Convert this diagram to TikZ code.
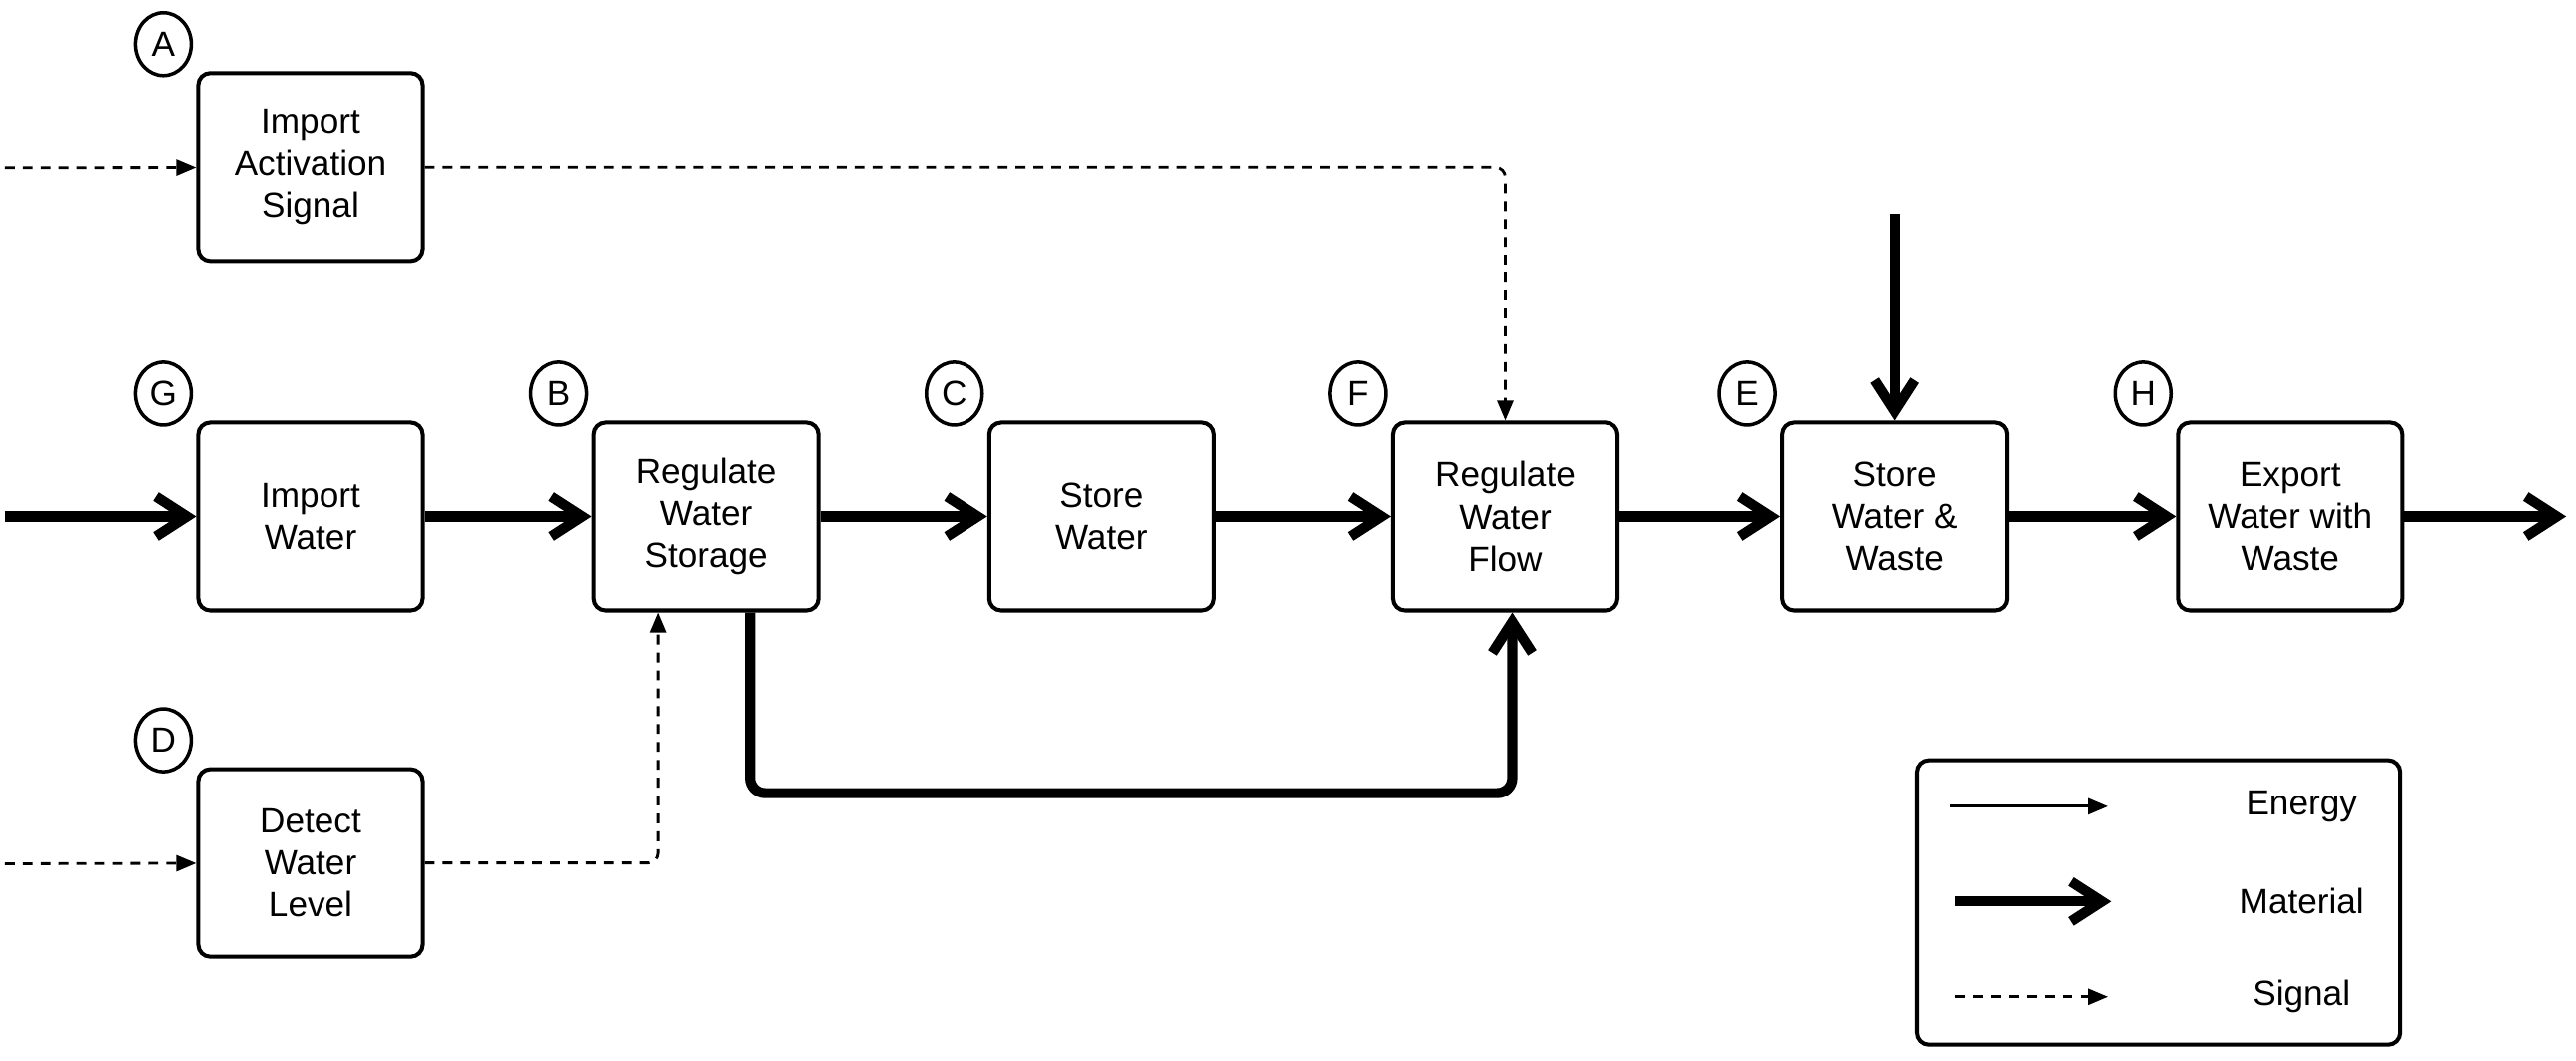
\documentclass[tikz,border=0pt]{standalone}
\usepackage{fontspec}
\setmainfont{Liberation Sans}
\usetikzlibrary{arrows.meta,positioning,shapes.geometric}
\tikzset{
  fbox/.style={draw, line width=1.15pt, rounded corners=1.2mm, minimum width=2.25cm, minimum height=1.88cm, align=center, inner sep=1pt, font=\fontsize{10}{12}\selectfont},
  tag/.style={draw, ellipse, line width=1pt, minimum width=0.56cm, minimum height=0.63cm, inner sep=0pt, font=\fontsize{10}{12}\selectfont},
  mat/.style={-{Straight Barb[length=3.1mm,width=4mm,line width=2.9pt,line join=miter]}, line width=2.9pt},
  sig/.style={-{Triangle[length=2mm,width=1.6mm]}, line width=0.8pt, dash pattern=on 2.8pt off 2.3pt},
  nrg/.style={-{Triangle[length=2mm,width=1.6mm]}, line width=0.8pt},
  lab/.style={font=\fontsize{10}{12}\selectfont},
}

\begin{document}
\begin{tikzpicture}[x=0.016454cm, y=-0.016454cm, node distance=1.67cm]
      \useasboundingbox (0,0) rectangle (1568,646);
      % main row
      \node[fbox] (G) at (189,314.5) {Import\\Water};
      \node[fbox, right=of G] (B) {Regulate\\Water\\Storage};
      \node[fbox, right=of B] (C) {Store\\Water};
      \node[fbox, right=1.75cm of C] (F) {Regulate\\Water\\Flow};
      \node[fbox, right=1.61cm of F] (E) {Store\\Water \&\\Waste};
      \node[fbox, right=of E] (H) {Export\\Water with\\Waste};
      \node[fbox, above=1.58cm of G] (A) {Import\\Activation\\Signal};
      \node[fbox, below=1.55cm of G] (D) {Detect\\Water\\Level};

      % tags
      \node[tag] (tA) at ([shift={(-0.33cm,0.27cm)}]A.north west) {A};
      \node[tag] (tG) at ([shift={(-0.33cm,0.27cm)}]G.north west) {G};
      \node[tag] (tB) at ([shift={(-0.33cm,0.27cm)}]B.north west) {B};
      \node[tag] (tC) at ([shift={(-0.33cm,0.27cm)}]C.north west) {C};
      \node[tag] (tF) at ([shift={(-0.33cm,0.27cm)}]F.north west) {F};
      \node[tag] (tE) at ([shift={(-0.33cm,0.27cm)}]E.north west) {E};
      \node[tag] (tH) at ([shift={(-0.33cm,0.27cm)}]H.north west) {H};
      \node[tag] (tD) at ([shift={(-0.33cm,0.27cm)}]D.north west) {D};

      % free ends
      \coordinate (inA) at (3,102);
      \coordinate (inG) at (3,314.5);
      \coordinate (inD) at (3,526);
      \coordinate (inE) at ([yshift=2.07cm]E.north);
      \coordinate (out) at (1562,314.5);

      % flows
      \draw[mat] (inG) -- (G);
      \draw[mat] (G) -- (B);
      \draw[mat] (B) -- (C);
      \draw[mat] (C) -- (F);
      \draw[mat] (F) -- (E);
      \draw[mat] (E) -- (H);
      \draw[mat] (H) -- (out);
      \draw[mat] (inE) -- (E.north);
      \draw[mat, rounded corners=1.5mm] ([xshift=0.44cm]B.south) -- ++(0,-1.81cm) -| ([xshift=0.07cm]F.south);
      \draw[sig] (inA) -- (A);
      \draw[sig, rounded corners=1mm] (A.east) -| (F.north);
      \draw[sig] (inD) -- (D);
      \draw[sig, rounded corners=1mm] (D.east) -| ([xshift=-0.48cm]B.south);

      % legend
      \node[draw, line width=1.15pt, rounded corners=1.2mm, minimum width=4.84cm, minimum height=2.85cm] (leg) at (1314,549.5) {};
      \coordinate (e1) at (1187,491);
      \coordinate (e2) at (1283,491);
      \coordinate (m1) at (1190,549);
      \coordinate (m2) at (1285,549);
      \coordinate (s1) at (1190,607);
      \coordinate (s2) at (1283,607);
      \draw[nrg] (e1) -- (e2);
      \draw[mat] (m1) -- (m2);
      \draw[sig] (s1) -- (s2);
      \node[lab] (lE) at (1401,491) {Energy};
      \node[lab] (lM) at (1401,549) {Material};
      \node[lab] (lS) at (1401,607) {Signal};
    \end{tikzpicture}
\end{document}
